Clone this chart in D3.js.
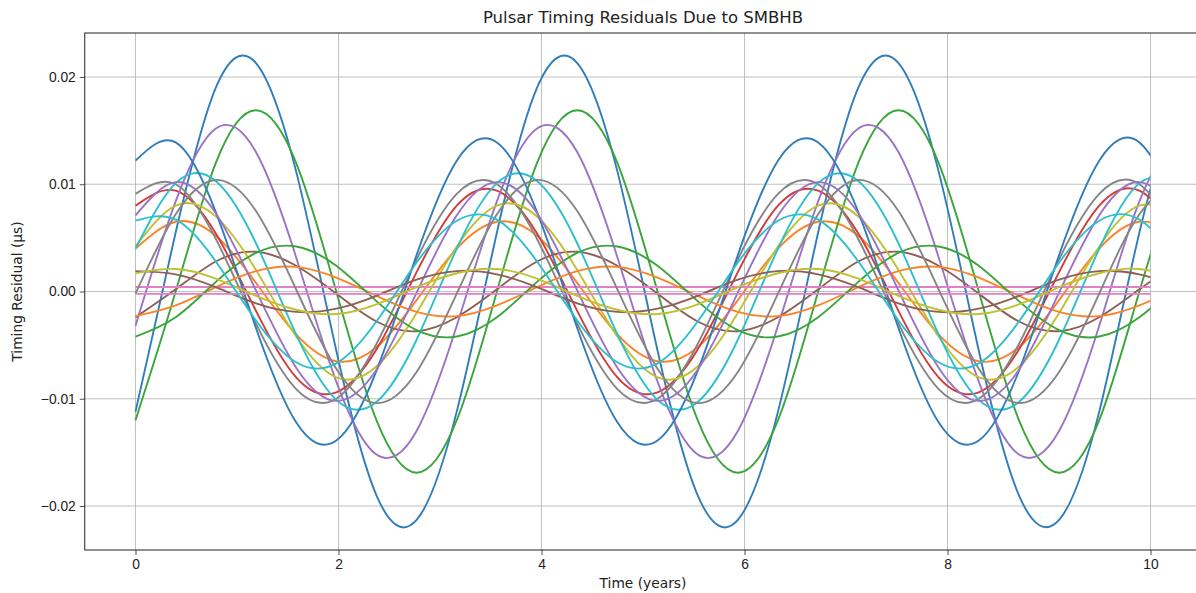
<!DOCTYPE html>
<html>
<head>
<meta charset="utf-8">
<title>Pulsar Timing Residuals</title>
<style>
body { margin: 0; background: #fff; }
svg { font-family: 'DejaVu Sans', sans-serif; }
</style>
</head>
<body>
<div id="chart"></div>
<script src="https://d3js.org/d3.v7.min.js"></script>
<script>
// sample times (years), every 1/8 of the ~3.165 yr period
var times = [0, 0.3956, 0.7913, 1.1869, 1.5825, 1.9781, 2.3738, 2.7694, 3.1650, 3.5606,
  3.9563, 4.3519, 4.7475, 5.1431, 5.5388, 5.9344, 6.3300, 6.7256, 7.1213, 7.5169,
  7.9125, 8.3081, 8.7038, 9.0994, 9.4950, 9.8906, 10.2863];

// residuals (µs) at those times
var blue1 = [-0.0112, 0.0055, 0.0190, 0.0213, 0.0112, -0.0055, -0.0190, -0.0213,
  -0.0112, 0.0055, 0.0190, 0.0213, 0.0112, -0.0055, -0.0190, -0.0213,
  -0.0112, 0.0055, 0.0190, 0.0213, 0.0112, -0.0055, -0.0190, -0.0213,
  -0.0112, 0.0055, 0.0190];
var orange1 = [0.0040, 0.0065, 0.0052, 0.0008, -0.0040, -0.0065, -0.0052, -0.0008,
  0.0040, 0.0065, 0.0052, 0.0008, -0.0040, -0.0065, -0.0052, -0.0008,
  0.0040, 0.0065, 0.0052, 0.0008, -0.0040, -0.0065, -0.0052, -0.0008,
  0.0040, 0.0065, 0.0052];
var green1 = [-0.0120, 0.0000, 0.0120, 0.0169, 0.0120, 0.0000, -0.0120, -0.0169,
  -0.0120, 0.0000, 0.0120, 0.0169, 0.0120, 0.0000, -0.0120, -0.0169,
  -0.0120, 0.0000, 0.0120, 0.0169, 0.0120, 0.0000, -0.0120, -0.0169,
  -0.0120, 0.0000, 0.0120];
var red1 = [0.0080, 0.0094, 0.0054, -0.0018, -0.0080, -0.0094, -0.0054, 0.0018,
  0.0080, 0.0094, 0.0054, -0.0018, -0.0080, -0.0094, -0.0054, 0.0018,
  0.0080, 0.0094, 0.0054, -0.0018, -0.0080, -0.0094, -0.0054, 0.0018,
  0.0080, 0.0094, 0.0054];
var purple1 = [-0.0032, 0.0084, 0.0152, 0.0130, 0.0032, -0.0084, -0.0152, -0.0130,
  -0.0032, 0.0084, 0.0152, 0.0130, 0.0032, -0.0084, -0.0152, -0.0130,
  -0.0032, 0.0084, 0.0152, 0.0130, 0.0032, -0.0084, -0.0152, -0.0130,
  -0.0032, 0.0084, 0.0152];
var brown1 = [-0.0024, 0.0002, 0.0028, 0.0037, 0.0024, -0.0002, -0.0028, -0.0037,
  -0.0024, 0.0002, 0.0028, 0.0037, 0.0024, -0.0002, -0.0028, -0.0037,
  -0.0024, 0.0002, 0.0028, 0.0037, 0.0024, -0.0002, -0.0028, -0.0037,
  -0.0024, 0.0002, 0.0028];
var pink1 = [0.00042, 0.00042, 0.00042, 0.00042, 0.00042, 0.00042, 0.00042, 0.00042,
  0.00042, 0.00042, 0.00042, 0.00042, 0.00042, 0.00042, 0.00042, 0.00042,
  0.00042, 0.00042, 0.00042, 0.00042, 0.00042, 0.00042, 0.00042, 0.00042,
  0.00042, 0.00042, 0.00042];
var gray1 = [0.0091, 0.0100, 0.0049, -0.0030, -0.0091, -0.0100, -0.0049, 0.0030,
  0.0091, 0.0100, 0.0049, -0.0030, -0.0091, -0.0100, -0.0049, 0.0030,
  0.0091, 0.0100, 0.0049, -0.0030, -0.0091, -0.0100, -0.0049, 0.0030,
  0.0091, 0.0100, 0.0049];
var olive1 = [0.0042, 0.0080, 0.0070, 0.0020, -0.0042, -0.0080, -0.0070, -0.0020,
  0.0042, 0.0080, 0.0070, 0.0020, -0.0042, -0.0080, -0.0070, -0.0020,
  0.0042, 0.0080, 0.0070, 0.0020, -0.0042, -0.0080, -0.0070, -0.0020,
  0.0042, 0.0080, 0.0070];
var cyan1 = [0.0040, 0.0101, 0.0103, 0.0045, -0.0040, -0.0101, -0.0103, -0.0045,
  0.0040, 0.0101, 0.0103, 0.0045, -0.0040, -0.0101, -0.0103, -0.0045,
  0.0040, 0.0101, 0.0103, 0.0045, -0.0040, -0.0101, -0.0103, -0.0045,
  0.0040, 0.0101, 0.0103];
var blue2 = [0.0122, 0.0139, 0.0074, -0.0034, -0.0122, -0.0139, -0.0074, 0.0034,
  0.0122, 0.0139, 0.0074, -0.0034, -0.0122, -0.0139, -0.0074, 0.0034,
  0.0122, 0.0139, 0.0074, -0.0034, -0.0122, -0.0139, -0.0074, 0.0034,
  0.0122, 0.0139, 0.0074];
var orange2 = [-0.0023, -0.0013, 0.0004, 0.0019, 0.0023, 0.0013, -0.0004, -0.0019,
  -0.0023, -0.0013, 0.0004, 0.0019, 0.0023, 0.0013, -0.0004, -0.0019,
  -0.0023, -0.0013, 0.0004, 0.0019, 0.0023, 0.0013, -0.0004, -0.0019,
  -0.0023, -0.0013, 0.0004];
var green2 = [-0.0042, -0.0024, 0.0009, 0.0036, 0.0042, 0.0024, -0.0009, -0.0036,
  -0.0042, -0.0024, 0.0009, 0.0036, 0.0042, 0.0024, -0.0009, -0.0036,
  -0.0042, -0.0024, 0.0009, 0.0036, 0.0042, 0.0024, -0.0009, -0.0036,
  -0.0042, -0.0024, 0.0009];
var purple2 = [0.0071, 0.0102, 0.0073, 0.0001, -0.0071, -0.0102, -0.0073, -0.0001,
  0.0071, 0.0102, 0.0073, 0.0001, -0.0071, -0.0102, -0.0073, -0.0001,
  0.0071, 0.0102, 0.0073, 0.0001, -0.0071, -0.0102, -0.0073, -0.0001,
  0.0071, 0.0102, 0.0073];
var brown2 = [0.0019, 0.0016, 0.0004, -0.0011, -0.0019, -0.0016, -0.0004, 0.0011,
  0.0019, 0.0016, 0.0004, -0.0011, -0.0019, -0.0016, -0.0004, 0.0011,
  0.0019, 0.0016, 0.0004, -0.0011, -0.0019, -0.0016, -0.0004, 0.0011,
  0.0019, 0.0016, 0.0004];
var pink2 = [-0.00022, -0.00022, -0.00022, -0.00022, -0.00022, -0.00022, -0.00022, -0.00022,
  -0.00022, -0.00022, -0.00022, -0.00022, -0.00022, -0.00022, -0.00022, -0.00022,
  -0.00022, -0.00022, -0.00022, -0.00022, -0.00022, -0.00022, -0.00022, -0.00022,
  -0.00022, -0.00022, -0.00022];
var gray2 = [-0.0002, 0.0072, 0.0104, 0.0075, 0.0002, -0.0072, -0.0104, -0.0075,
  -0.0002, 0.0072, 0.0104, 0.0075, 0.0002, -0.0072, -0.0104, -0.0075,
  -0.0002, 0.0072, 0.0104, 0.0075, 0.0002, -0.0072, -0.0104, -0.0075,
  -0.0002, 0.0072, 0.0104];
var olive2 = [0.0017, 0.0021, 0.0012, -0.0004, -0.0017, -0.0021, -0.0012, 0.0004,
  0.0017, 0.0021, 0.0012, -0.0004, -0.0017, -0.0021, -0.0012, 0.0004,
  0.0017, 0.0021, 0.0012, -0.0004, -0.0017, -0.0021, -0.0012, 0.0004,
  0.0017, 0.0021, 0.0012];
var cyan2 = [0.0066, 0.0067, 0.0028, -0.0027, -0.0066, -0.0067, -0.0028, 0.0027,
  0.0066, 0.0067, 0.0028, -0.0027, -0.0066, -0.0067, -0.0028, 0.0027,
  0.0066, 0.0067, 0.0028, -0.0027, -0.0066, -0.0067, -0.0028, 0.0027,
  0.0066, 0.0067, 0.0028];

var xTicks = [0, 2, 4, 6, 8, 10];
var yTicks = [-0.02, -0.01, 0, 0.01, 0.02];

var series = [blue1, orange1, green1, red1, purple1, brown1, pink1, gray1, olive1, cyan1,
  blue2, orange2, green2, purple2, brown2, pink2, gray2, olive2, cyan2];
var colors = ['#2f7dbb', '#fb8428', '#3aa53a', '#d43a3a', '#9a73c4', '#8f5f55', '#e27fc6', '#858585', '#bfc033', '#2bbfcf',
  '#2f7dbb', '#fb8428', '#3aa53a', '#9a73c4', '#8f5f55', '#e27fc6', '#858585', '#bfc033', '#2bbfcf'];

var W = 1196, H = 593;
var svg = d3.select('#chart').append('svg').attr('width', W).attr('height', H);

var x = d3.scaleLinear().domain([-0.5, 10.5]).range([84.75, 1201.25]);
var y = d3.scaleLinear().domain([-0.0241, 0.0241]).range([550, 33]);
var pLeft = x.range()[0], pRight = x.range()[1], pTop = y.range()[1], pBottom = y.range()[0];

// grid
svg.append('g').selectAll('line').data(xTicks).enter().append('line')
  .attr('x1', function (d) { return x(d); }).attr('x2', function (d) { return x(d); })
  .attr('y1', pTop).attr('y2', pBottom)
  .style('stroke', '#b0b0b0').style('stroke-width', 0.8);
svg.append('g').selectAll('line').data(yTicks).enter().append('line')
  .attr('x1', pLeft).attr('x2', pRight)
  .attr('y1', function (d) { return y(d); }).attr('y2', function (d) { return y(d); })
  .style('stroke', '#b0b0b0').style('stroke-width', 0.8);

// lines stop at t = 10
svg.append('clipPath').attr('id', 'clip').append('rect')
  .attr('x', pLeft).attr('y', 0).attr('width', x(10) - pLeft).attr('height', H);

var line = d3.line()
  .x(function (d, i) { return x(times[i]); })
  .y(function (d) { return y(d); })
  .curve(d3.curveNatural);

svg.append('g').attr('clip-path', 'url(#clip)')
  .selectAll('path').data(series).enter().append('path')
  .attr('d', line)
  .style('fill', 'none')
  .style('stroke', function (d, i) { return colors[i]; })
  .style('stroke-width', 1.9);

// axes
var xAxis = d3.axisBottom(x).tickValues(xTicks).tickSize(5).tickPadding(4).tickFormat(d3.format('d'));
var yAxis = d3.axisLeft(y).tickValues(yTicks).tickSize(5).tickPadding(4).tickFormat(d3.format('.2f'));
var gx = svg.append('g').attr('transform', 'translate(0,' + pBottom + ')').call(xAxis);
var gy = svg.append('g').attr('transform', 'translate(' + pLeft + ',0)').call(yAxis);
[gx, gy].forEach(function (g) {
  g.select('.domain').remove();
  g.selectAll('.tick line').style('stroke', '#222').style('stroke-width', 0.8);
  g.selectAll('.tick text').style('font-size', '13.8px').style('fill', '#222');
});

// frame
svg.append('rect').attr('x', pLeft).attr('y', pTop)
  .attr('width', pRight - pLeft).attr('height', pBottom - pTop)
  .style('fill', 'none').style('stroke', '#222').style('stroke-width', 1);

// titles
svg.append('text').attr('x', (pLeft + pRight) / 2).attr('y', 23)
  .style('text-anchor', 'middle').style('font-size', '16.5px').style('fill', '#222')
  .text('Pulsar Timing Residuals Due to SMBHB');
svg.append('text').attr('x', (pLeft + pRight) / 2).attr('y', 588)
  .style('text-anchor', 'middle').style('font-size', '13.8px').style('fill', '#222')
  .text('Time (years)');
svg.append('text').attr('transform', 'translate(22,' + y(0) + ') rotate(-90)')
  .style('text-anchor', 'middle').style('font-size', '13.8px').style('fill', '#222')
  .text('Timing Residual (μs)');
</script>
</body>
</html>
